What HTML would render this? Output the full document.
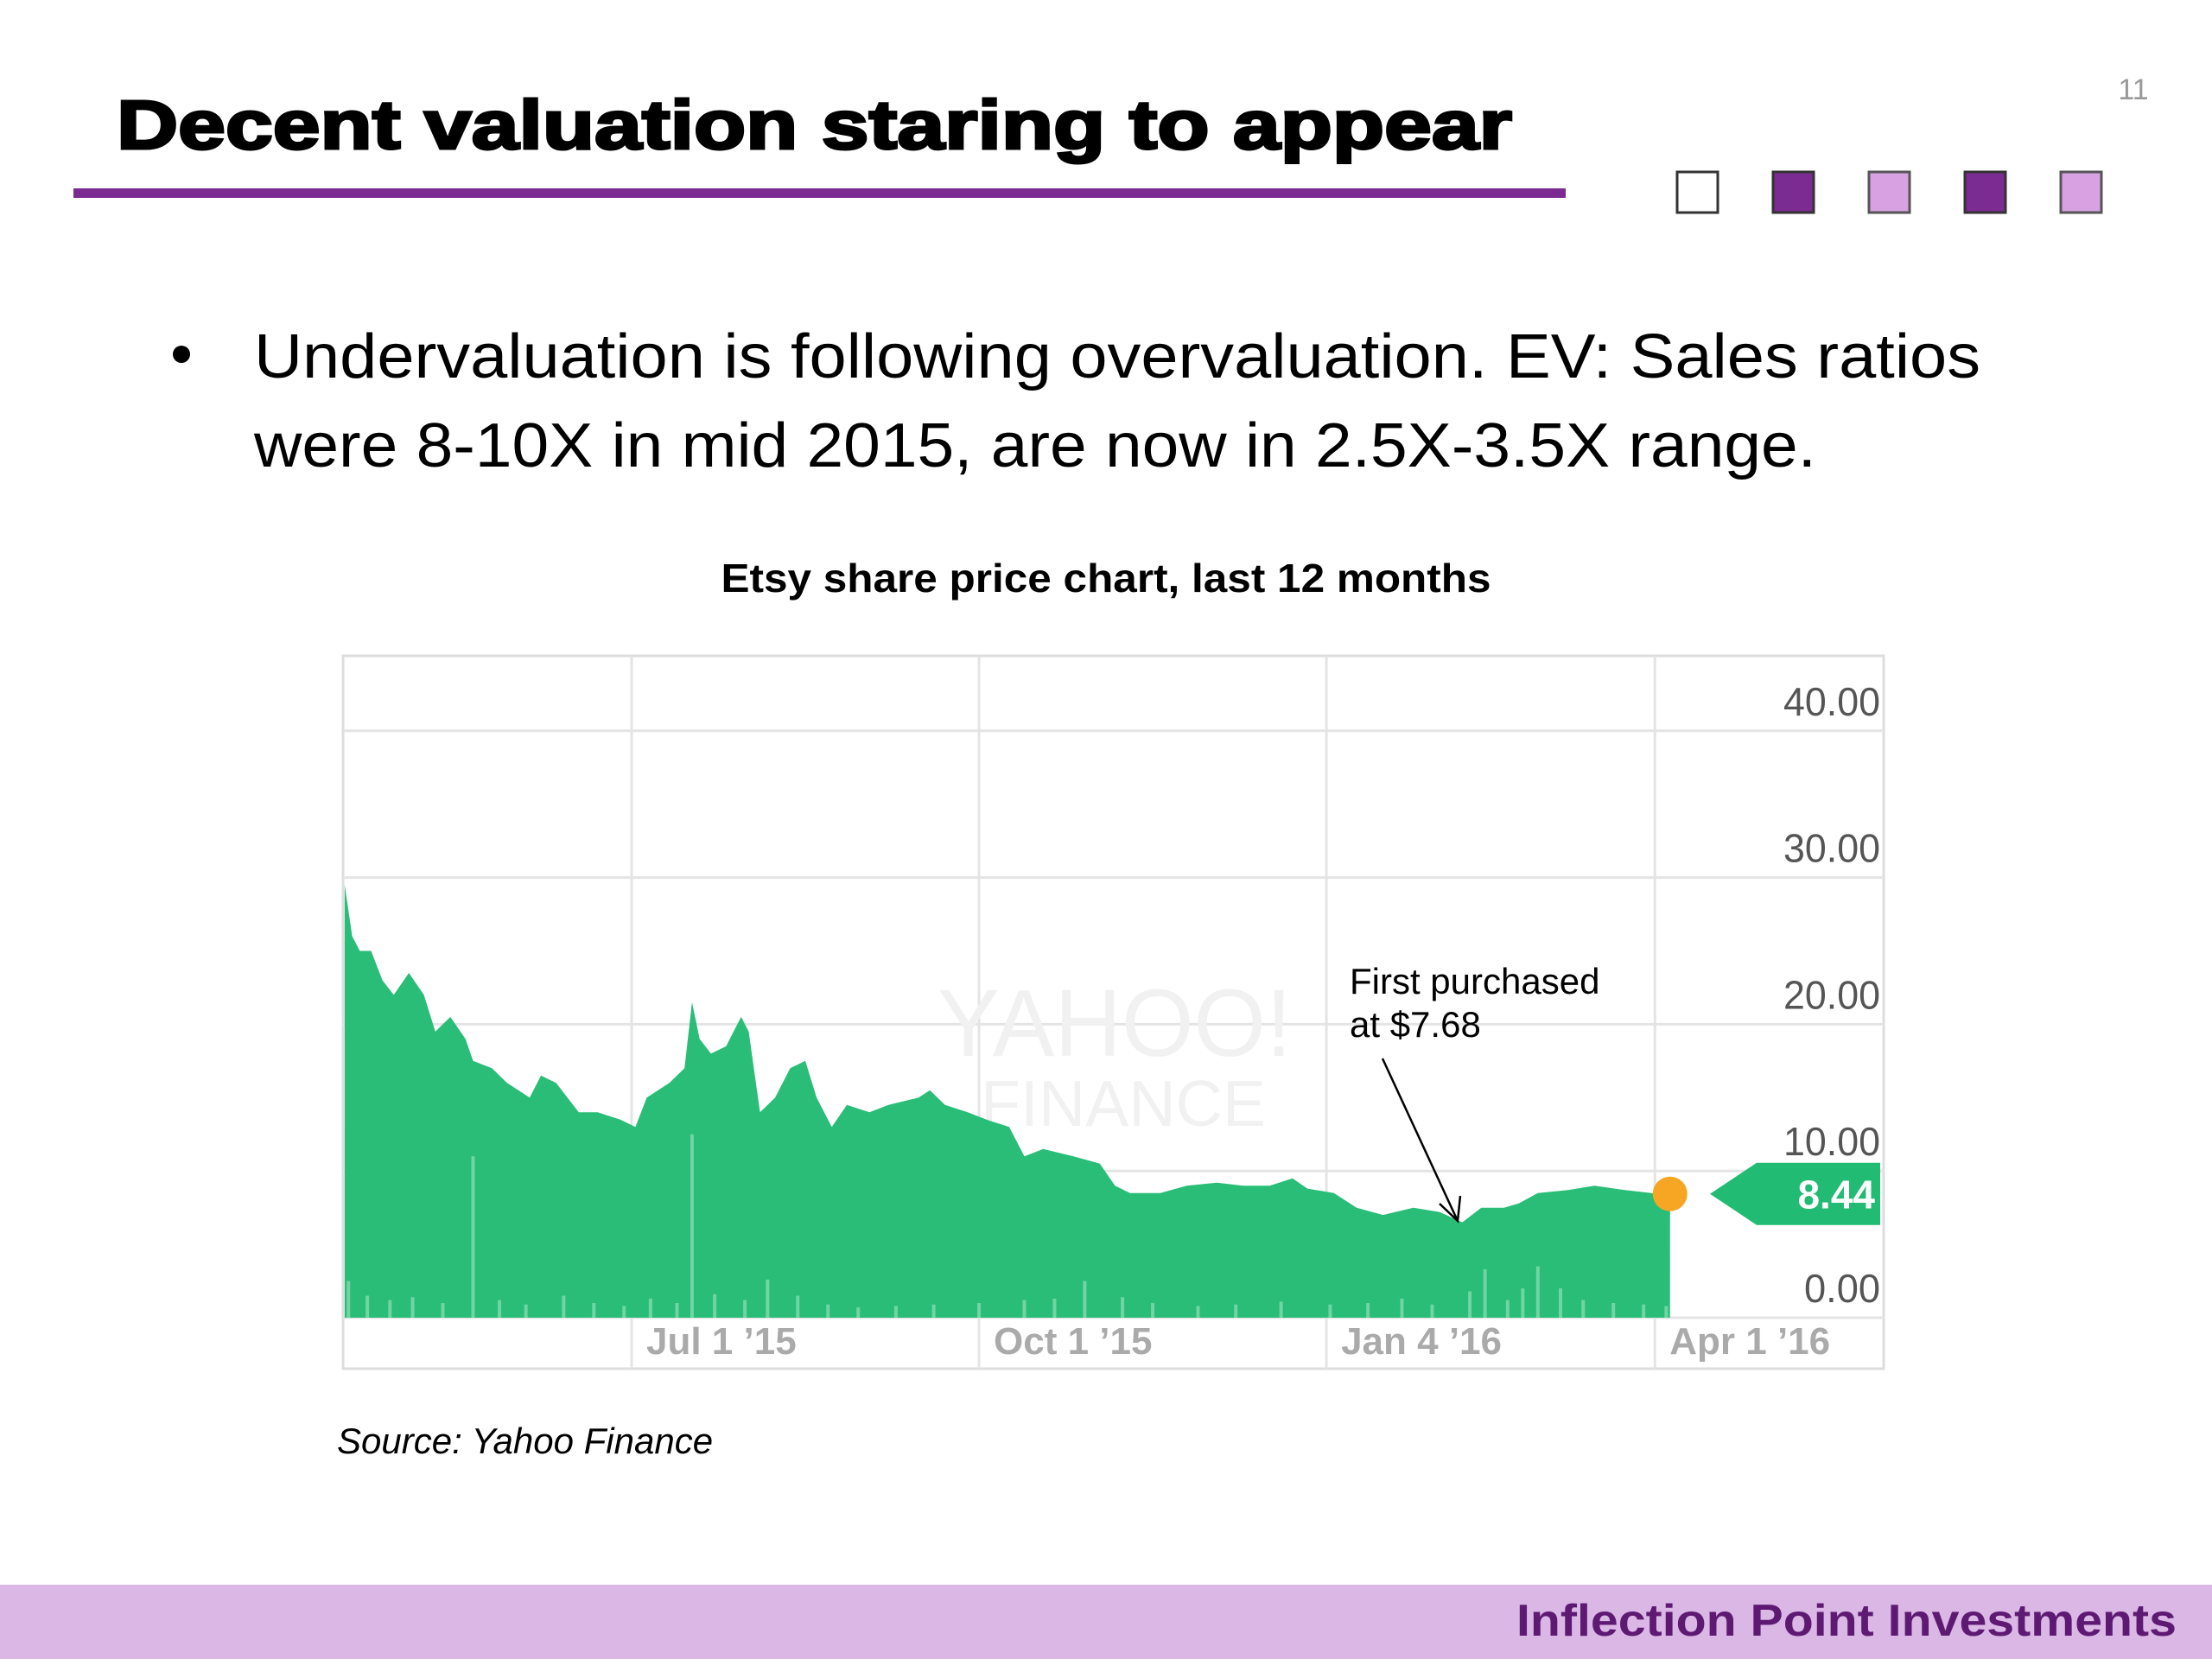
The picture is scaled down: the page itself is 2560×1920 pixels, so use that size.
<!DOCTYPE html>
<html><head><meta charset="utf-8"><style>
html,body{margin:0;padding:0;background:#fff;}
svg{display:block;}
</style></head><body>
<svg id="slide" width="2560" height="1920" viewBox="0 0 2560 1920" xmlns="http://www.w3.org/2000/svg">
  <rect width="2560" height="1920" fill="#fff"/>
  <text x="135" y="172" font-family="Liberation Sans, sans-serif" font-weight="bold" font-size="80" textLength="1615" lengthAdjust="spacingAndGlyphs" fill="#000" stroke="#000" stroke-width="3">Decent valuation staring to appear</text>
  <rect x="85" y="218" width="1727" height="11" fill="#7a2a91"/>
  <text x="2469" y="115" font-family="Liberation Sans, sans-serif" font-size="34" fill="#999" text-anchor="middle">11</text>
  <g>
    <rect x="1941" y="199" width="47" height="47" fill="#fff" stroke="#333" stroke-width="3"/>
    <rect x="2052" y="199" width="47" height="47" fill="#7b2c92" stroke="#333" stroke-width="3"/>
    <rect x="2163" y="199" width="47" height="47" fill="#d8a2e2" stroke="#555" stroke-width="3"/>
    <rect x="2274" y="199" width="47" height="47" fill="#7b2c92" stroke="#333" stroke-width="3"/>
    <rect x="2385" y="199" width="47" height="47" fill="#d8a2e2" stroke="#555" stroke-width="3"/>
  </g>
  <g font-family="Liberation Sans, sans-serif" font-size="72" fill="#000">
    <circle cx="210" cy="410" r="10" fill="#000"/>
    <text x="294" y="437" textLength="1998" lengthAdjust="spacingAndGlyphs">Undervaluation is following overvaluation. EV: Sales ratios</text>
    <text x="294" y="540" textLength="1808" lengthAdjust="spacingAndGlyphs">were 8-10X in mid 2015, are now in 2.5X-3.5X range.</text>
  </g>
  <text x="1280" y="685" text-anchor="middle" font-family="Liberation Sans, sans-serif" font-weight="bold" font-size="46" textLength="891" lengthAdjust="spacingAndGlyphs" fill="#000">Etsy share price chart, last 12 months</text>
  <g id="chart"></g>
  <text x="390" y="1682" font-family="Liberation Sans, sans-serif" font-style="italic" font-size="42" fill="#000">Source: Yahoo Finance</text>
  <rect x="0" y="1834" width="2560" height="86" fill="#dbb7e6"/>
  <text x="2519" y="1893" text-anchor="end" font-family="Liberation Sans, sans-serif" font-weight="bold" font-size="52" textLength="764" lengthAdjust="spacingAndGlyphs" fill="#5e1a73">Inflection Point Investments</text>
</svg>
<script>
const priceDays = [-76,-74,-72,-69,-66,-63,-59,-55,-52,-48,-44,-42,-37,-33,-27,-24,-20,-14,-9,-3,1,4,10,14,16,18,21,25,29,31,34,38,42,46,49,53,57,63,68,76,79,83,89,94,100,104,109,117,124,128,132,140,147,155,162,169,175,179,186,192,199,207,214,220,225,231,235,240,248,255,263,270,275];
const priceValues = [29.5,26,25,25,23,22,23.5,22,19.5,20.5,19,17.5,17,16,15,16.5,16,14,14,13.5,13,15,16,17,21.5,19,18,18.5,20.5,19.5,14,15,17,17.5,15,13,14.5,14,14.5,15,15.5,14.5,14,13.5,13,11,11.5,11,10.5,9,8.5,8.5,9,9.2,9,9,9.5,8.8,8.5,7.5,7,7.5,7.2,6.5,7.5,7.5,7.8,8.5,8.7,9,8.7,8.5,8.44];
const volumeDays = [-75,-70,-64,-58,-50,-42,-35,-28,-18,-10,-2,5,12,16,22,30,36,44,52,60,70,80,92,104,112,120,130,138,150,160,172,185,195,204,212,222,226,232,236,240,246,252,260,268,274];
const volumeValues = [2.5,1.5,1.2,1.4,1.0,11,1.2,0.9,1.5,1.0,0.8,1.3,1.0,12.5,1.6,1.2,2.6,1.5,0.9,0.7,0.8,0.9,1.0,1.2,1.3,2.5,1.4,1.0,0.8,0.9,1.1,0.9,1.0,1.3,0.9,1.8,3.3,1.2,2.0,3.5,2.0,1.2,1.0,0.9,0.8];
const yTicks = [0,10,20,30,40];
const yTickLabels = ["0.00","10.00","20.00","30.00","40.00"];
const xTickDays = [0,92,184,271];
const xTickLabels = ["Jul 1 \u201915","Oct 1 \u201915","Jan 4 \u201916","Apr 1 \u201916"];
const lastPrice = "8.44";

const NS = "http://www.w3.org/2000/svg";
const g = document.getElementById("chart");
const L=397,R=2180,T=759,B=1584;
function xS(d){return 731 + d*4.37;}
function yS(v){return 1525 - v*16.98;}
function mk(tag, attrs, parent){const e=document.createElementNS(NS,tag);for(const k in attrs)e.setAttribute(k,attrs[k]);(parent||g).appendChild(e);return e;}

const frame = mk("rect",{x:L,y:T,width:R-L,height:B-T,fill:"#fff",stroke:"#ddd","stroke-width":3});



yTicks.forEach((v,i)=>{
  const ln = mk("line",{x1:L,x2:R,y1:yS(v),y2:yS(v),stroke:"#e4e4e4","stroke-width":3});
  
  
});
xTickDays.forEach((d,i)=>{
  const ln = mk("line",{x1:xS(d),x2:xS(d),y1:T,y2:B,stroke:"#e4e4e4","stroke-width":3});
  
  
});

const wm = mk("g",{fill:"#f1f1f1","font-family":"Liberation Sans, sans-serif","text-anchor":"middle"});


const w1 = mk("text",{x:1290,y:1222,"font-size":110,"textLength":410,"lengthAdjust":"spacingAndGlyphs"},wm); w1.textContent="YAHOO!";
const w2 = mk("text",{x:1300,y:1303,"font-size":75,"textLength":330,"lengthAdjust":"spacingAndGlyphs"},wm); w2.textContent="FINANCE";

let dStr = "M"+xS(priceDays[0])+","+yS(0);
priceDays.forEach((d,i)=>{dStr += " L"+xS(d).toFixed(1)+","+yS(priceValues[i]).toFixed(1);});
dStr += " L"+xS(priceDays[priceDays.length-1])+","+yS(0)+" Z";
const area = mk("path",{d:dStr,fill:"#22bb73","fill-opacity":0.97});



volumeDays.forEach((d,i)=>{
  const b = mk("rect",{x:xS(d)-2,y:yS(volumeValues[i]),width:4,height:yS(0)-yS(volumeValues[i]),fill:"#8fe0b6","fill-opacity":0.7});
  
  
});

yTicks.forEach((v,i)=>{
  const t = mk("text",{x:2176,y:yS(v)-18,"text-anchor":"end","font-family":"Liberation Sans, sans-serif","font-size":46,fill:"#555","textLength":112,"lengthAdjust":"spacingAndGlyphs"});
  if(v===0){t.setAttribute("textLength",88);}
  t.textContent = yTickLabels[i];
  
  
});
xTickDays.forEach((d,i)=>{
  const t = mk("text",{x:xS(d)+17,y:1567,"font-family":"Liberation Sans, sans-serif","font-weight":"bold","font-size":44,fill:"#aaa"});
  t.textContent = xTickLabels[i];
  
  
});

const lastD = priceDays[priceDays.length-1], lastV = priceValues[priceValues.length-1];
const dot = mk("circle",{cx:xS(lastD),cy:yS(lastV),r:20,fill:"#f6a623"});


const fy = yS(lastV);
const flag = mk("polygon",{points:`1979,${fy} 2033,${fy-36} 2176,${fy-36} 2176,${fy+36} 2033,${fy+36}`,fill:"#22bb73"});


const ft = mk("text",{x:2170,y:fy+17,"text-anchor":"end","font-family":"Liberation Sans, sans-serif","font-weight":"bold","font-size":46,fill:"#fff"});
ft.textContent = lastPrice;



const ann = mk("g",{"font-family":"Liberation Sans, sans-serif","font-size":42,fill:"#000"});


const a1 = mk("text",{x:1562,y:1150},ann); a1.textContent="First purchased";
const a2 = mk("text",{x:1562,y:1200},ann); a2.textContent="at $7.68";
mk("line",{x1:1600,y1:1225,x2:1687,y2:1413,stroke:"#000","stroke-width":2.5},ann);
mk("polyline",{points:"1666,1393 1687,1413 1690,1384",fill:"none",stroke:"#000","stroke-width":2.5},ann);
</script>
</body></html>
